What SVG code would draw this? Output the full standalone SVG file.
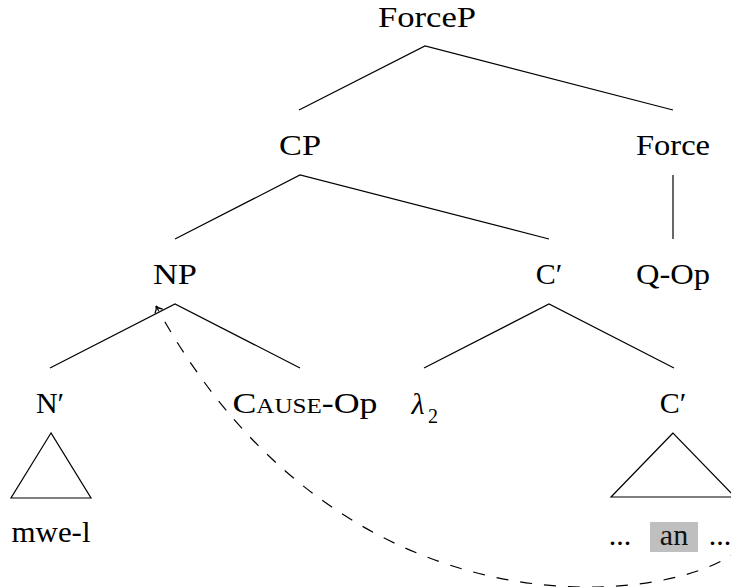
<svg xmlns="http://www.w3.org/2000/svg" width="731" height="587" viewBox="0 0 731 587">
<style>
.t{font-family:'Liberation Serif','DejaVu Serif',serif;font-size:30px;fill:#000;text-anchor:middle}
.e{stroke:#000;stroke-width:1.2;fill:none}
.sm{font-variant:small-caps}
</style>
<defs>
<marker id="arr" markerUnits="userSpaceOnUse" markerWidth="14" markerHeight="14" refX="0" refY="0" viewBox="-7 -7 14 14" orient="auto" overflow="visible">
<path d="M-6,-4.5 C-4,-1.8 -2,-0.4 0,0 C-2,0.4 -4,1.8 -6,4.5" fill="none" stroke="#000" stroke-width="1.2" stroke-dasharray="none"/>
</marker>
</defs>
<g id="connectors">
<path class="e" d="M299,110 L425,46 L673,110"/>
<path class="e" d="M175,239 L300,175 L549,239"/>
<path class="e" d="M673,175 L673,239"/>
<path class="e" d="M50,368 L175,304 L300,368"/>
<path class="e" d="M424,368 L549,304 L674,368"/>
<path class="e" d="M740,548 C690,600 348,658 156,306" stroke-dasharray="12 12" marker-end="url(#arr)"/>
</g>
<g id="ForceP"><text class="t" x="427" y="27" textLength="98" lengthAdjust="spacingAndGlyphs">ForceP</text></g>
<g id="CP"><text class="t" x="300" y="155" textLength="42" lengthAdjust="spacingAndGlyphs">CP</text></g>
<g id="Force"><text class="t" x="673" y="155" textLength="74" lengthAdjust="spacingAndGlyphs">Force</text></g>
<g id="NP"><text class="t" x="175" y="284" textLength="44" lengthAdjust="spacingAndGlyphs">NP</text></g>
<g id="Cbar1"><text class="t" x="549" y="284">C′</text></g>
<g id="QOp"><text class="t" x="673" y="284" textLength="74" lengthAdjust="spacingAndGlyphs">Q-Op</text></g>
<g id="Nbar"><text class="t" x="50" y="413">N′</text></g>
<g id="CauseOp"><text class="t" x="305" y="413" textLength="145" lengthAdjust="spacingAndGlyphs">C<tspan class="sm">ause</tspan>-Op</text></g>
<g id="lambda"><text class="t" x="418" y="414" font-style="italic">λ</text><text class="t" x="433" y="423" style="font-size:20px">2</text></g>
<g id="Cbar2"><text class="t" x="673" y="413">C′</text>
<polygon class="e" points="673,433 611,497 735,497"/>
<text class="t" x="620" y="545">...</text>
<rect x="650" y="522" width="48" height="30" fill="#bfbfbf"/>
<text class="t" x="674" y="545" style="fill:#111">an</text>
<text class="t" x="720" y="545">...</text>
</g>
<g id="mwe"><polygon class="e" points="51,433 11,498 91,498"/>
<text class="t" x="51" y="542" textLength="79" lengthAdjust="spacingAndGlyphs">mwe-l</text></g>
</svg>
